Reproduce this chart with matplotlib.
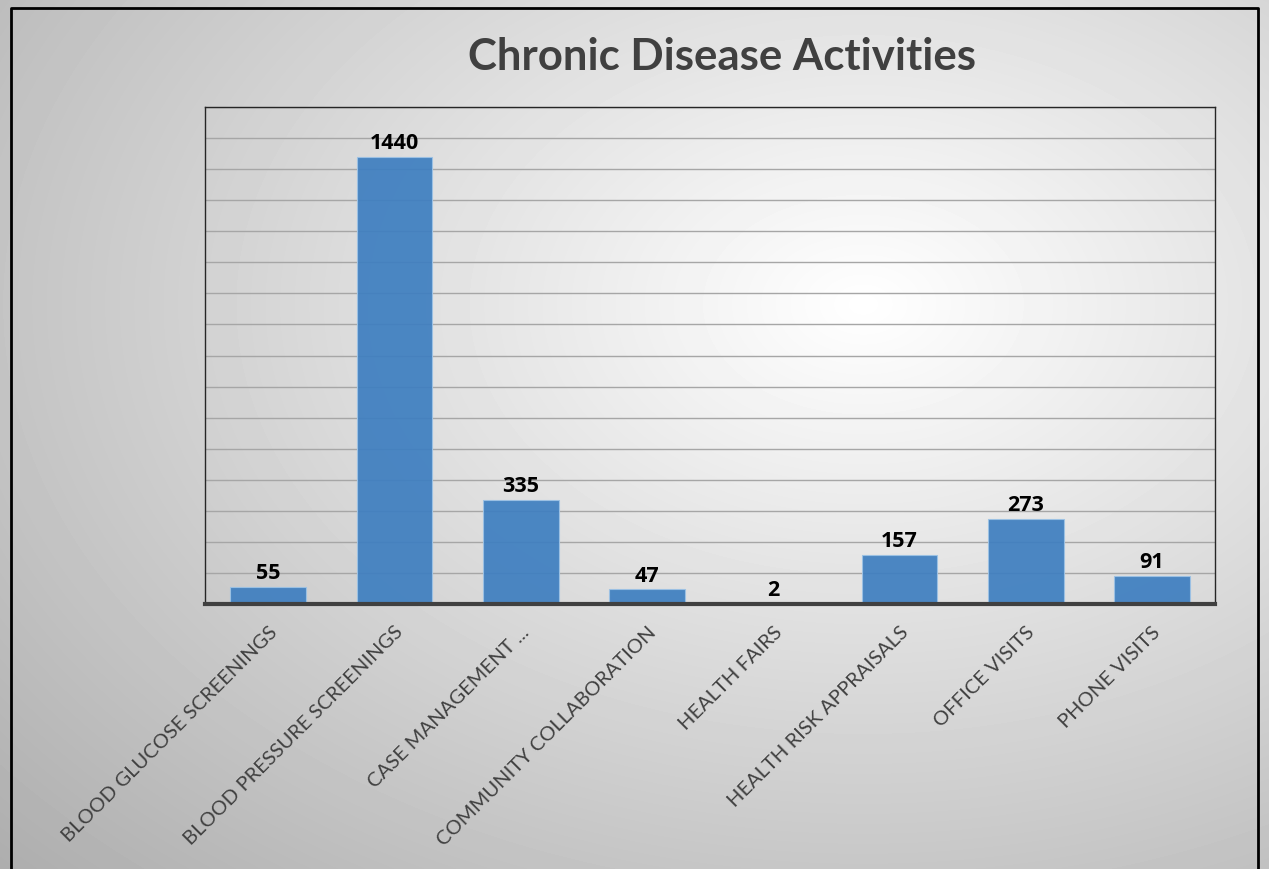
import numpy as np
import matplotlib.pyplot as plt
from matplotlib.lines import Line2D

categories = ["BLOOD GLUCOSE SCREENINGS", "BLOOD PRESSURE SCREENINGS", "CASE MANAGEMENT ...",
              "COMMUNITY COLLABORATION", "HEALTH FAIRS", "HEALTH RISK APPRAISALS",
              "OFFICE VISITS", "PHONE VISITS"]
values = [55, 1440, 335, 47, 2, 157, 273, 91]

W, H = 1269, 869
fig = plt.figure(figsize=(W / 100, H / 100), dpi=100)

# radial gradient background
yy, xx = np.mgrid[0:H, 0:W]
d = np.sqrt(((xx - 0.68 * W) / W) ** 2 + ((yy - 0.35 * H) / H) ** 2)
shade = np.clip(1 - d * 0.34, 0, 1)
bg = fig.add_axes([0, 0, 1, 1])
bg.imshow(shade, cmap="gray", vmin=0, vmax=1, aspect="auto", extent=[0, W, H, 0])
bg.set_xlim(0, W)
bg.set_ylim(H, 0)
bg.axis("off")
# outer frame
bg.add_line(Line2D([11, 11, 1258, 1258], [H + 5, 8, 8, H + 5], color="black", lw=2))

ax = fig.add_axes([205 / W, 1 - 604 / H, 1010 / W, 497 / H])
ax.set_facecolor("none")
x = np.arange(len(categories))
bars = ax.bar(x, values, width=0.6, color="#3f7fc0", alpha=0.93,
              edgecolor="#9cc2e5", linewidth=0.8, zorder=3)
ax.set_xlim(-0.5, len(categories) - 0.5)
ax.set_ylim(0, 1600)
ax.set_yticks(np.arange(0, 1601, 100))
ax.yaxis.grid(True, color="#a6a6a6", lw=1, zorder=0)
ax.tick_params(axis="y", left=False, labelleft=False)
ax.tick_params(axis="x", length=0, pad=14)
ax.set_xticks(x)
ax.set_xticklabels(categories, rotation=45, ha="right", rotation_mode="anchor",
                   fontsize=14.5, color="#404040", family="Lato")

for s in ["left", "top", "right"]:
    ax.spines[s].set_color("#262626")
    ax.spines[s].set_linewidth(1)
ax.spines["bottom"].set_color("#404040")
ax.spines["bottom"].set_linewidth(3)
ax.spines["bottom"].set_zorder(4)

for b, v in zip(bars, values):
    ax.annotate(str(v), (b.get_x() + b.get_width() / 2, v), xytext=(0, 2),
                textcoords="offset points", ha="center", va="bottom",
                fontsize=15.5, fontweight="bold", family="Open Sans", color="black")

fig.text(722 / W, 1 - 57 / H, "Chronic Disease Activities", ha="center", va="center",
         fontsize=31.5, fontweight="bold", family="Lato", color="#404040")

fig.savefig("out.png", dpi=100)
